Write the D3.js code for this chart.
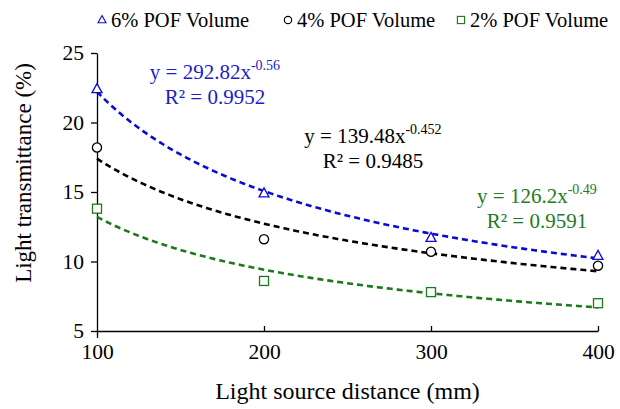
<!DOCTYPE html>
<html>
<head>
<meta charset="utf-8">
<script src="https://cdn.jsdelivr.net/npm/d3@7"></script>
<style>
  body { margin: 0; background: #fff; }
  svg text { font-family: "Liberation Serif", "Times New Roman", Times, "DejaVu Serif", serif; }
</style>
</head>
<body>
<div id="chart"></div>
<script>
// data
var distances = [100, 200, 300, 400];
var pof6 = [22.4, 14.9, 11.7, 10.4];
var pof4 = [18.2, 11.6, 10.7, 9.7];
var pof2 = [13.8, 8.6, 7.8, 7.0];
var seriesNames = ["6% POF Volume", "4% POF Volume", "2% POF Volume"];
// power trendline coefficients (y = a * x^b) as printed on the chart
var fitA = [292.82, 139.48, 126.2];
var fitB = [-0.56, -0.452, -0.49];
var fitR2 = ["0.9952", "0.9485", "0.9591"];
var xTicks = [100, 200, 300, 400];
var yTicks = [5, 10, 15, 20, 25];

var svgWidth = 620;
var svgHeight = 409;

var margin = { top: 53, right: 22, bottom: 78, left: 97 };

var chartWidth = svgWidth - margin.left - margin.right;
var chartHeight = svgHeight - margin.top - margin.bottom;

var colors = ["#0a0ad6", "#000000", "#1b7a1b"];
var textColors = ["#1c1cc8", "#000000", "#237b23"];

var svg = d3.select("#chart").append("svg")
  .attr("width", svgWidth)
  .attr("height", svgHeight);

var chartGroup = svg.append("g")
  .attr("transform", `translate(${margin.left}, ${margin.top})`);

var xScale = d3.scaleLinear()
  .domain([100, 400])
  .range([0, chartWidth]);

var yScale = d3.scaleLinear()
  .domain([5, 25])
  .range([chartHeight, 0]);

// x axis: ticks point inward
var xAxis = d3.axisBottom(xScale)
  .tickValues(xTicks)
  .tickSizeInner(-5)
  .tickSizeOuter(0)
  .tickPadding(13);

var xg = chartGroup.append("g")
  .attr("transform", `translate(0, ${chartHeight})`)
  .call(xAxis);
xg.attr("font-family", null);
xg.selectAll("text").attr("font-size", 21.5).attr("fill", "#000");
xg.selectAll("line,path").attr("stroke", "#000").attr("stroke-width", 1.3);
xg.selectAll(".tick").filter(d => d === 100).select("line").attr("y2", 7);

// y axis: ticks point outward
var yAxis = d3.axisLeft(yScale)
  .tickValues(yTicks)
  .tickSizeInner(6)
  .tickSizeOuter(0)
  .tickPadding(7);

var yg = chartGroup.append("g")
  .call(yAxis);
yg.attr("font-family", null);
yg.selectAll("text").attr("font-size", 21.5).attr("fill", "#000");
yg.selectAll("line,path").attr("stroke", "#000").attr("stroke-width", 1.3);

// axis titles
svg.append("text")
  .attr("x", margin.left + chartWidth / 2)
  .attr("y", 399)
  .attr("text-anchor", "middle")
  .attr("font-size", 24)
  .text("Light source distance (mm)");

svg.append("text")
  .attr("transform", "translate(31, 173) rotate(-90)")
  .attr("text-anchor", "middle")
  .attr("font-size", 23)
  .text("Light transmittance (%)");

// trendlines
var allSeries = [pof6, pof4, pof2];
var curveX = d3.range(100, 401, 2);
var line = d3.line()
  .x(d => xScale(d[0]))
  .y(d => yScale(d[1]));

allSeries.forEach(function(s, i) {
  var pts = curveX.map(x => [x, fitA[i] * Math.pow(x, fitB[i])]);
  chartGroup.append("path")
    .datum(pts)
    .attr("fill", "none")
    .attr("stroke", colors[i])
    .attr("stroke-width", 2.6)
    .attr("stroke-dasharray", "6,4")
    .attr("d", line);
});

// markers
function drawMarker(g, kind, color) {
  if (kind === 0) {
    g.append("path").attr("d", "M0,-5.5L5,3.5L-5,3.5Z");
  } else if (kind === 1) {
    g.append("circle").attr("r", 4.6);
  } else {
    g.append("rect").attr("x", -4.5).attr("y", -4.5).attr("width", 9).attr("height", 9);
  }
  g.selectAll("*").attr("fill", "#fff").attr("stroke", color).attr("stroke-width", 1.3);
}

allSeries.forEach(function(s, i) {
  chartGroup.selectAll(".m" + i)
    .data(s)
    .enter()
    .append("g")
    .attr("class", "m" + i)
    .attr("transform", (d, j) => `translate(${xScale(distances[j])}, ${yScale(d)})`)
    .each(function() { drawMarker(d3.select(this), i, colors[i]); });
});

// equation labels
var labelPos = [[215, 79, 104], [373, 143, 168], [537, 203, 228]];
labelPos.forEach(function(p, i) {
  var t = svg.append("text")
    .attr("x", p[0])
    .attr("y", p[1])
    .attr("text-anchor", "middle")
    .attr("font-size", 21)
    .attr("fill", textColors[i]);
  t.append("tspan").text("y = " + fitA[i] + "x");
  t.append("tspan").attr("dy", -9).attr("font-size", 14).text(fitB[i]);
  svg.append("text")
    .attr("x", p[0])
    .attr("y", p[2])
    .attr("text-anchor", "middle")
    .attr("font-size", 21)
    .attr("fill", textColors[i])
    .text("R² = " + fitR2[i]);
});

// legend
var legendX = [102, 288, 461];
seriesNames.forEach(function(name, i) {
  var g = svg.append("g").attr("transform", `translate(${legendX[i]}, 20)`);
  drawMarker(g, i, colors[i]);
  g.selectAll("*").attr("transform", "scale(0.8)").attr("stroke-width", 1.4);
  g.append("text")
    .attr("x", 9)
    .attr("y", 7)
    .attr("font-size", 20.5)
    .attr("fill", "#000")
    .text(name);
});
</script>
</body>
</html>
